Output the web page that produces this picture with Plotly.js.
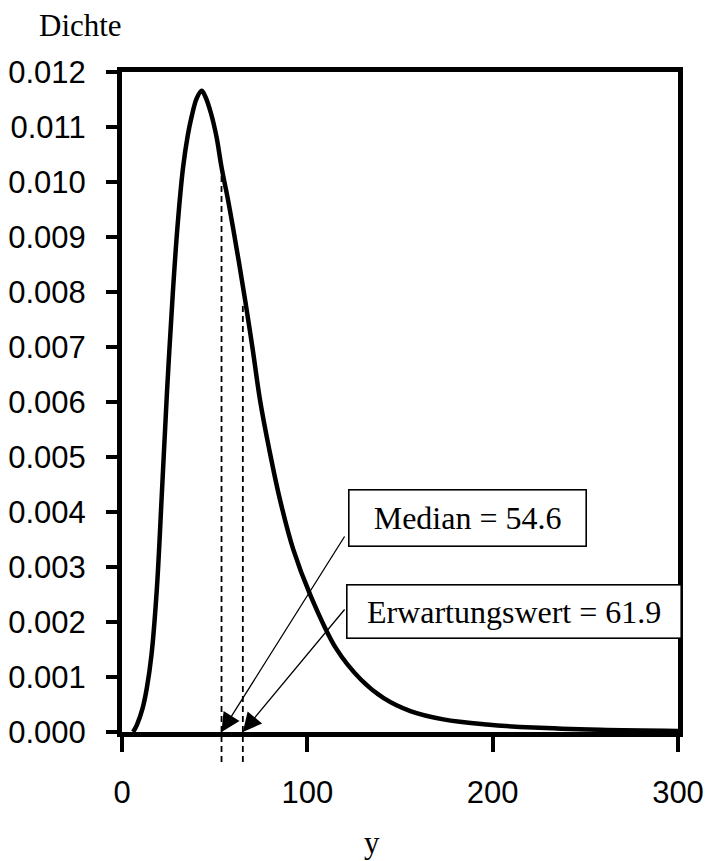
<!DOCTYPE html>
<html>
<head>
<meta charset="utf-8">
<script src="https://cdn.plot.ly/plotly-3.0.1.min.js"></script>
<style>html,body{margin:0;padding:0;background:#fff;}#chart{width:705px;height:861px;}</style>
</head>
<body>
<div id="chart"></div>
<script>
// Density curve
var yVals = [6.0, 8.05, 11.1, 13.4, 15.9, 18.8, 21.6, 24.3, 27.4, 29.9, 32.9, 35.5, 37.5, 40.3, 43.0,
             45.0, 48.0, 51.0, 53.7, 57.0, 59.9, 63.0, 66.5, 70.6, 74.5, 79.5, 85.2, 92.4, 101.5,
             115.5, 129.0, 141.0, 155.6, 173.4, 196.9, 221.9, 258.0, 300.0];
var densVals = [0.0, 0.00013, 0.00043, 0.0008, 0.0014, 0.0026, 0.0044, 0.0062, 0.00797, 0.00917, 0.01025, 0.01085, 0.01118, 0.01152, 0.01166,
                0.01155, 0.01125, 0.01082, 0.01027, 0.00971, 0.00917, 0.00856, 0.00784, 0.00694, 0.00603, 0.00513, 0.00423, 0.00332, 0.0025,
                0.00152, 0.00095, 0.00062, 0.00038, 0.00023, 0.000136, 0.00008, 0.00004, 0.00002];

// Reference lines (positions as drawn) and their labels
var refLineX = [53.7, 65.2];
var refLineTop = [0.01027, 0.00780];
var refLabels = ['Median = 54.6', 'Erwartungswert = 61.9'];

var xTicks = [0, 100, 200, 300];
var yTicks = [0, 0.001, 0.002, 0.003, 0.004, 0.005, 0.006, 0.007, 0.008, 0.009, 0.010, 0.011, 0.012];
var yRangeMax = 0.012;

var trace = {
  x: yVals, y: densVals, type: 'scatter', mode: 'lines',
  line: {color: '#000', width: 4.5, shape: 'spline', smoothing: 1},
  hoverinfo: 'skip'
};

var shapes = refLineX.map(function(xv, i) {
  return {type: 'line', xref: 'x', yref: 'paper', x0: xv, x1: xv,
          y0: -0.0455, y1: refLineTop[i] / yRangeMax,
          line: {color: '#000', width: 1.8, dash: '6px,4px'}, layer: 'below'};
});

var serif = '"Liberation Serif", "Times New Roman", serif';
var annotations = [
  {xref: 'paper', yref: 'paper', x: -0.153, y: 1.0697, xanchor: 'left', yanchor: 'middle',
   text: 'Dichte', showarrow: false, font: {family: serif, size: 31, color: '#000'}},
  {xref: 'paper', yref: 'paper', x: 0.45, y: -0.168, xanchor: 'center', yanchor: 'middle',
   text: 'y', showarrow: false, font: {family: serif, size: 31, color: '#000'}},
  {xref: 'paper', yref: 'paper', x: 0.6214, y: 0.3242, xanchor: 'center', yanchor: 'middle',
   text: refLabels[0], showarrow: false, width: 236, height: 55, borderpad: 0,
   bgcolor: '#fff', bordercolor: '#000', borderwidth: 1.6,
   font: {family: serif, size: 32, color: '#000'}},
  {xref: 'paper', yref: 'paper', x: 0.705, y: 0.1823, xanchor: 'center', yanchor: 'middle',
   text: refLabels[1], showarrow: false, width: 333, height: 52, borderpad: 0,
   bgcolor: '#fff', bordercolor: '#000', borderwidth: 1.6,
   font: {family: serif, size: 32, color: '#000'}},
  {xref: 'x', yref: 'y', x: refLineX[0], y: 0, text: '', showarrow: true,
   ax: 124, ay: -197, arrowhead: 2, arrowsize: 2.9, arrowwidth: 1.3, arrowcolor: '#000', standoff: 0},
  {xref: 'x', yref: 'y', x: refLineX[1], y: 0, text: '', showarrow: true,
   ax: 103, ay: -124, arrowhead: 2, arrowsize: 2.9, arrowwidth: 1.3, arrowcolor: '#000', standoff: 0}
];

var sans = '"Liberation Sans", Arial, sans-serif';
var layout = {
  width: 705, height: 861,
  margin: {l: 122, r: 27, t: 72, b: 129, pad: 0},
  paper_bgcolor: '#fff', plot_bgcolor: '#fff',
  showlegend: false,
  xaxis: {
    range: [0, 300], tickvals: xTicks, ticktext: xTicks.map(String),
    showgrid: false, zeroline: false, showline: true, linecolor: '#000', linewidth: 5, mirror: true,
    ticks: 'outside', ticklen: 15, tickwidth: 4, tickcolor: '#000',
    ticklabelstandoff: 14,
    tickfont: {family: sans, size: 31, color: '#000'}
  },
  yaxis: {
    range: [0, yRangeMax], tickvals: yTicks, ticktext: yTicks.map(function(v){return v.toFixed(3);}),
    showgrid: false, zeroline: false, showline: true, linecolor: '#000', linewidth: 5, mirror: true,
    ticks: 'outside', ticklen: 11, tickwidth: 4, tickcolor: '#000',
    ticklabelstandoff: 14,
    tickfont: {family: sans, size: 31, color: '#000'}
  },
  shapes: shapes,
  annotations: annotations
};

Plotly.newPlot('chart', [trace], layout, {staticPlot: true, displayModeBar: false});
</script>
</body>
</html>
